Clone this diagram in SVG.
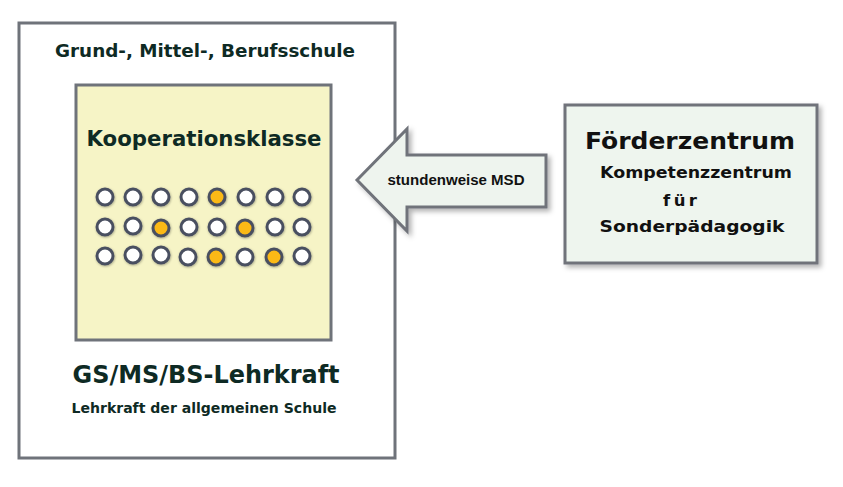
<svg xmlns="http://www.w3.org/2000/svg" width="843" height="487" viewBox="0 0 843 487">
<style>
.box{stroke:#6f737a;stroke-width:3}
.t{font-family:"DejaVu Sans",Verdana,sans-serif;font-weight:bold}
.a{font-family:"Liberation Sans",Arial,sans-serif;font-weight:bold}
.dk{fill:#0e2a24}
.bk{fill:#111}
.dot{stroke:#4a5060;stroke-width:3;fill:#fff}
.or{fill:#fbb917}
</style>
<defs>
<filter id="sh" x="-20%" y="-20%" width="150%" height="150%">
<feDropShadow dx="3" dy="3" stdDeviation="2.5" flood-color="#000" flood-opacity="0.3"/>
</filter>
<filter id="dsh" x="-50%" y="-50%" width="200%" height="200%">
<feDropShadow dx="0.5" dy="0.8" stdDeviation="0.8" flood-color="#000" flood-opacity="0.35"/>
</filter>
</defs>
<rect width="843" height="487" fill="#fff"/>
<g id="schule">
<rect class="box" x="19" y="23" width="376" height="435" fill="#fff"/>
<text class="t dk" x="205" y="57" font-size="18" text-anchor="middle" textLength="300" lengthAdjust="spacingAndGlyphs">Grund-, Mittel-, Berufsschule</text>
<text class="t dk" x="206" y="383" font-size="24.5" text-anchor="middle" textLength="267" lengthAdjust="spacingAndGlyphs">GS/MS/BS-Lehrkraft</text>
<text class="t dk" x="204" y="413" font-size="13.5" text-anchor="middle" textLength="265" lengthAdjust="spacingAndGlyphs">Lehrkraft der allgemeinen Schule</text>
</g>
<g id="kooperationsklasse">
<rect class="box" x="76" y="85" width="255" height="255" fill="#f6f4c6"/>
<text class="t dk" x="204" y="146" font-size="21" text-anchor="middle" textLength="235" lengthAdjust="spacingAndGlyphs">Kooperationsklasse</text>
<g filter="url(#dsh)">
<circle class="dot" cx="105" cy="197" r="8"/>
<circle class="dot" cx="133" cy="197" r="8"/>
<circle class="dot" cx="161" cy="197" r="8"/>
<circle class="dot" cx="189" cy="197" r="8"/>
<circle class="dot or" cx="217" cy="197" r="8"/>
<circle class="dot" cx="246" cy="197" r="8"/>
<circle class="dot" cx="275" cy="197" r="8"/>
<circle class="dot" cx="302" cy="197" r="8"/>
<circle class="dot" cx="105" cy="227" r="8"/>
<circle class="dot" cx="133" cy="226" r="8"/>
<circle class="dot or" cx="161" cy="228" r="8"/>
<circle class="dot" cx="189" cy="227" r="8"/>
<circle class="dot" cx="217" cy="227" r="8"/>
<circle class="dot or" cx="245" cy="228" r="8"/>
<circle class="dot" cx="275" cy="227" r="8"/>
<circle class="dot" cx="302" cy="227" r="8"/>
<circle class="dot" cx="105" cy="256" r="8"/>
<circle class="dot" cx="133" cy="255" r="8"/>
<circle class="dot" cx="161" cy="255" r="8"/>
<circle class="dot" cx="188" cy="257" r="8"/>
<circle class="dot or" cx="216" cy="257" r="8"/>
<circle class="dot" cx="245" cy="257" r="8"/>
<circle class="dot or" cx="274" cy="257" r="8"/>
<circle class="dot" cx="302" cy="256" r="8"/>
</g>
</g>
<g id="connectors">
<path class="box" filter="url(#sh)" d="M357 180 L407 129 L407 155 L546 155 L546 207 L407 207 L407 231 Z" fill="#eef4ee" stroke-linejoin="miter"/>
<text class="a bk" x="456" y="185" font-size="14" text-anchor="middle" textLength="137" lengthAdjust="spacingAndGlyphs">stundenweise MSD</text>
</g>
<g id="foerderzentrum">
<rect class="box" filter="url(#sh)" x="565" y="105" width="252" height="158" fill="#eef5ee"/>
<text class="t bk" x="690" y="149" font-size="23" text-anchor="middle" textLength="210" lengthAdjust="spacingAndGlyphs">Förderzentrum</text>
<text class="t bk" x="696" y="178" font-size="16" text-anchor="middle" textLength="192" lengthAdjust="spacingAndGlyphs">Kompetenzzentrum</text>
<text class="t bk" x="680" y="206" font-size="16.5" text-anchor="middle" textLength="34" lengthAdjust="spacing">für</text>
<text class="t bk" x="692" y="232" font-size="16" text-anchor="middle" textLength="185" lengthAdjust="spacingAndGlyphs">Sonderpädagogik</text>
</g>
</svg>
